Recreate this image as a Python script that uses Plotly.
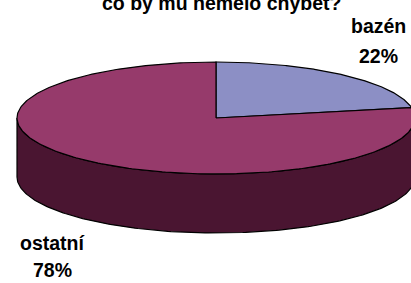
import numpy as np
import plotly.graph_objects as go

# ---- data ----
labels = ["bazén", "ostatní"]
values = [22, 78]
title_text = "co by mu nemělo chybět?"

# ---- style ----
top_colors = ["#8C8FC5", "#963A6B"]
side_colors = ["#3F4170", "#4A1531"]
font_family = "Liberation Sans, Arial, sans-serif"
fs = 19.5

W, H = 411, 283
cx, cy, rx, ry, depth = 216, 118, 199, 56, 59

def pt(theta_deg, dy=0.0):
    t = np.radians(theta_deg)
    return cx + rx * np.sin(t), cy - ry * np.cos(t) + dy

fig = go.Figure()

total = float(sum(values))
angles = np.concatenate([[0], np.cumsum(values) / total * 360.0])

# side walls (front half only: 90..270 deg clockwise from top)
for i in range(len(values)):
    a0, a1 = max(angles[i], 90), min(angles[i + 1], 270)
    if a1 <= a0:
        continue
    th = np.linspace(a0, a1, 200)
    xt, yt = pt(th)
    xb, yb = pt(th[::-1], depth)
    xs = np.concatenate([xt, xb, [xt[0]]])
    ys = np.concatenate([yt, yb, [yt[0]]])
    fig.add_trace(go.Scatter(x=xs, y=ys, fill="toself", fillcolor=side_colors[i],
                             mode="lines", line=dict(color="black", width=1.2),
                             hoverinfo="skip", showlegend=False))

# top faces
for i in range(len(values)):
    th = np.linspace(angles[i], angles[i + 1], 300)
    xa, ya = pt(th)
    xs = np.concatenate([[cx], xa, [cx]])
    ys = np.concatenate([[cy], ya, [cy]])
    fig.add_trace(go.Scatter(x=xs, y=ys, fill="toself", fillcolor=top_colors[i],
                             mode="lines", line=dict(color="black", width=1.2),
                             name=labels[i], hoverinfo="skip", showlegend=False))

# labels
label_pos = [(378, 26, 56), (52, 243, 270)]
for i, (lx, ly1, ly2) in enumerate(label_pos):
    pct = f"{round(values[i] / total * 100)}%"
    for txt, ly in ((labels[i], ly1), (pct, ly2)):
        fig.add_annotation(x=lx, y=ly, text=f"<b>{txt}</b>", showarrow=False,
                           xanchor="center", yanchor="middle",
                           font=dict(family=font_family, size=fs, color="black"))

fig.add_annotation(x=221, y=3, text=f"<b>{title_text}</b>", showarrow=False,
                   xanchor="center", yanchor="middle",
                   font=dict(family=font_family, size=fs, color="black"))

fig.update_layout(
    width=W, height=H, margin=dict(l=0, r=0, t=0, b=0),
    paper_bgcolor="white", plot_bgcolor="white",
    xaxis=dict(range=[0, W], visible=False, fixedrange=True),
    yaxis=dict(range=[H, 0], visible=False, fixedrange=True),
)

fig.write_html("out.html", config={"displayModeBar": False},
               post_script="document.body.style.margin='0';document.body.style.overflow='hidden';")
